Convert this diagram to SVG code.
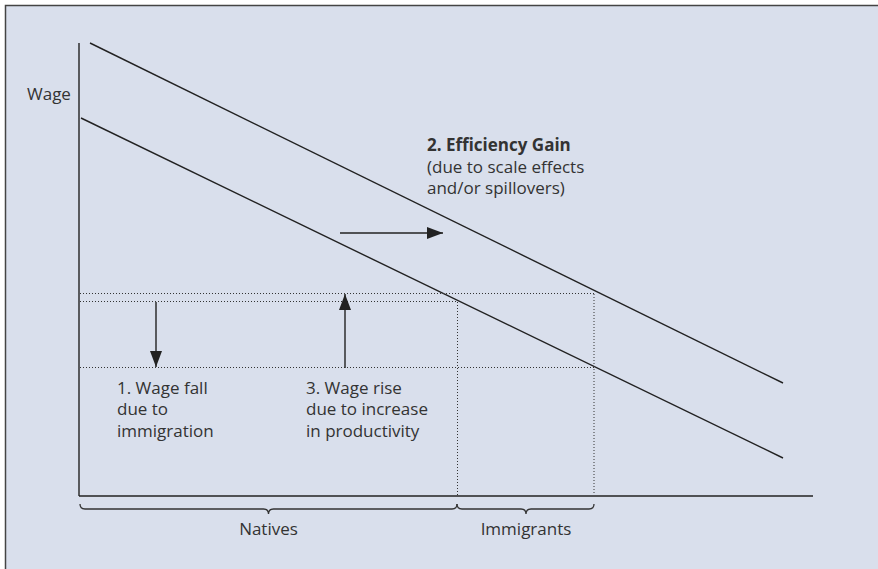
<svg xmlns="http://www.w3.org/2000/svg" width="878" height="569" viewBox="0 0 878 569">
  <defs>
    <style>
      .txt { font-family: "Open Sans", "Noto Sans", "Liberation Sans", sans-serif; font-size: 17px; fill: #333; }
      .bold { font-weight: bold; }
      .solid { stroke: #222; stroke-width: 1.4; fill: none; }
      .dot { stroke: #333; stroke-width: 1; stroke-dasharray: 1 2; fill: none; }
      .brace { stroke: #333; stroke-width: 1.3; fill: none; }
    </style>
    <marker id="ah" markerWidth="16" markerHeight="12" refX="16" refY="6" orient="auto" markerUnits="userSpaceOnUse">
      <path d="M0,0 L16,6 L0,12 Z" fill="#222"/>
    </marker>
  </defs>
  <rect x="0" y="0" width="878" height="569" fill="#ffffff"/>
  <rect x="5" y="5" width="880" height="570" fill="#d9dfec"/>
  <path d="M5.5,569 L5.5,5.5 L878,5.5" stroke="#444" stroke-width="1.5" fill="none"/>

  <g id="axes">
    <line class="solid" x1="79" y1="43" x2="79" y2="496"/>
    <line class="solid" x1="79" y1="496" x2="813" y2="496"/>
  </g>

  <g id="curves">
    <line class="solid" x1="90" y1="43" x2="783" y2="383"/>
    <line class="solid" x1="81" y1="118" x2="783" y2="458"/>
  </g>

  <g id="guides">
    <line class="dot" x1="80" y1="293.5" x2="594" y2="293.5"/>
    <line class="dot" x1="80" y1="301.5" x2="457" y2="301.5"/>
    <line class="dot" x1="80" y1="367.5" x2="594" y2="367.5"/>
    <line class="dot" x1="457.5" y1="302" x2="457.5" y2="495"/>
    <line class="dot" x1="594" y1="294" x2="594" y2="495"/>
  </g>

  <g id="connectors">
    <line class="solid" x1="340" y1="233" x2="443" y2="233" marker-end="url(#ah)"/>
    <line class="solid" x1="345" y1="368" x2="345" y2="294" marker-end="url(#ah)"/>
    <line class="solid" x1="156" y1="302" x2="156" y2="367" marker-end="url(#ah)"/>
  </g>

  <g id="braces">
    <path class="brace" d="M80,504 Q80,509 85,509 L263.5,509 Q268.5,509 268.5,514 Q268.5,509 273.5,509 L452,509 Q457,509 457,504"/>
    <path class="brace" d="M457,504 Q457,509 462,509 L521,509 Q526,509 526,514 Q526,509 531,509 L589,509 Q594,509 594,504"/>
  </g>

  <g id="label-wage">
    <text class="txt" x="27" y="100">Wage</text>
  </g>
  <g id="label-efficiency">
    <text class="txt" x="427" y="151"><tspan class="bold">2. Efficiency Gain</tspan></text>
    <text class="txt" x="427" y="172.5">(due to scale effects</text>
    <text class="txt" x="427" y="194">and/or spillovers)</text>
  </g>
  <g id="label-fall">
    <text class="txt" x="117" y="393.5">1. Wage fall</text>
    <text class="txt" x="117" y="415">due to</text>
    <text class="txt" x="117" y="436.5">immigration</text>
  </g>
  <g id="label-rise">
    <text class="txt" x="306" y="393.5">3. Wage rise</text>
    <text class="txt" x="306" y="415">due to increase</text>
    <text class="txt" x="306" y="436.5">in productivity</text>
  </g>
  <g id="label-natives">
    <text class="txt" x="268.5" y="535" text-anchor="middle">Natives</text>
  </g>
  <g id="label-immigrants">
    <text class="txt" x="526" y="535" text-anchor="middle">Immigrants</text>
  </g>
</svg>
